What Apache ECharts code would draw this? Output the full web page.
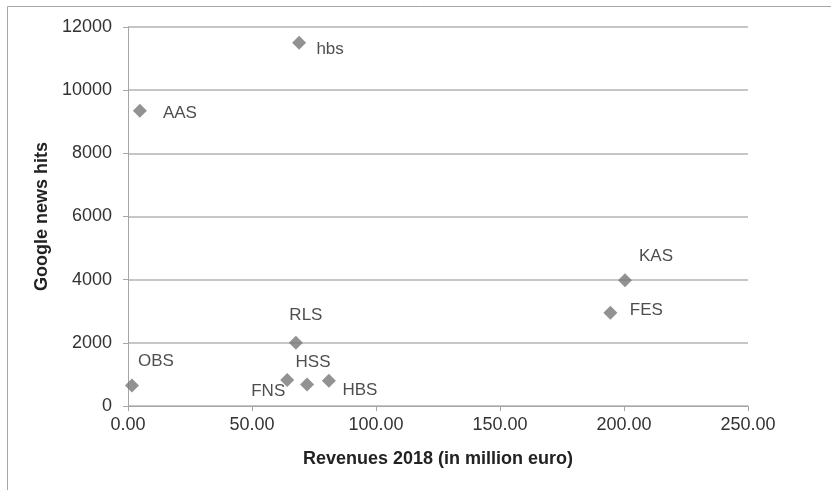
<!DOCTYPE html>
<html>
<head>
<meta charset="utf-8">
<script src="https://cdn.jsdelivr.net/npm/echarts@6/dist/echarts.min.js"></script>
<style>
  html, body { margin: 0; padding: 0; background: #fff; }
  #chart { width: 831px; height: 490px; }
</style>
</head>
<body>
<div id="chart"></div>
<script>
// schools, revenues (million euro) and google news hits
const names = ['hbs', 'AAS', 'OBS', 'RLS', 'FNS', 'HSS', 'HBS', 'KAS', 'FES']
const revenues = [69.0, 4.8, 1.6, 67.7, 64.2, 72.2, 81.0, 200.4, 194.5]
const hits = [11500, 9350, 650, 2000, 820, 680, 800, 3980, 2950]
// label offsets from marker centre (px)
const labelOffsets = [[31, 7], [40, 3], [24, -24], [10, -28], [-19, 11], [6, -22], [31, 10], [31, -24], [36, -3]]

const font = '"Liberation Sans", Arial, sans-serif'
const chart = echarts.init(document.getElementById('chart'))

const option = {
  animation: false,
  graphic: [{
    type: 'rect',
    shape: { x: 7.5, y: 6.5, width: 840, height: 500 },
    style: { fill: 'none', stroke: '#a6a6a6', lineWidth: 1 }
  }],
  grid: { left: 128, right: 83, top: 27, bottom: 84 },
  xAxis: {
    type: 'value',
    min: 0,
    max: 250,
    interval: 50,
    name: 'Revenues 2018 (in million euro)',
    nameLocation: 'middle',
    nameGap: 44,
    nameTextStyle: { fontFamily: font, fontSize: 18, fontWeight: 'bold', color: '#222' },
    axisLine: { lineStyle: { color: '#a6a6a6', width: 1 } },
    axisTick: { show: true, length: 5, lineStyle: { color: '#a6a6a6' } },
    axisLabel: {
      formatter: (v) => v.toFixed(2),
      fontFamily: font, fontSize: 18, color: '#333', margin: 10
    },
    splitLine: { show: false }
  },
  yAxis: {
    type: 'value',
    min: 0,
    max: 12000,
    interval: 2000,
    name: 'Google news hits',
    nameLocation: 'middle',
    nameGap: 68,
    nameTextStyle: { fontFamily: font, fontSize: 18, fontWeight: 'bold', color: '#222' },
    axisLine: { show: true, lineStyle: { color: '#a6a6a6', width: 1 } },
    axisTick: { show: true, length: 5, lineStyle: { color: '#a6a6a6' } },
    axisLabel: {
      formatter: (v) => String(v),
      fontFamily: font, fontSize: 18, color: '#333', margin: 16
    },
    splitLine: { show: true, lineStyle: { color: '#b3b3b3', width: 1.5 } }
  },
  series: [{
    type: 'scatter',
    symbol: 'diamond',
    symbolSize: 14,
    itemStyle: { color: '#777777' },
    data: names.map((n, i) => ({
      name: n,
      value: [revenues[i], hits[i]],
      label: { offset: labelOffsets[i] }
    })),
    label: {
      show: true,
      position: 'inside',
      formatter: '{b}',
      fontFamily: font,
      fontSize: 17,
      color: '#222'
    }
  }]
}

chart.setOption(option)
</script>
</body>
</html>
